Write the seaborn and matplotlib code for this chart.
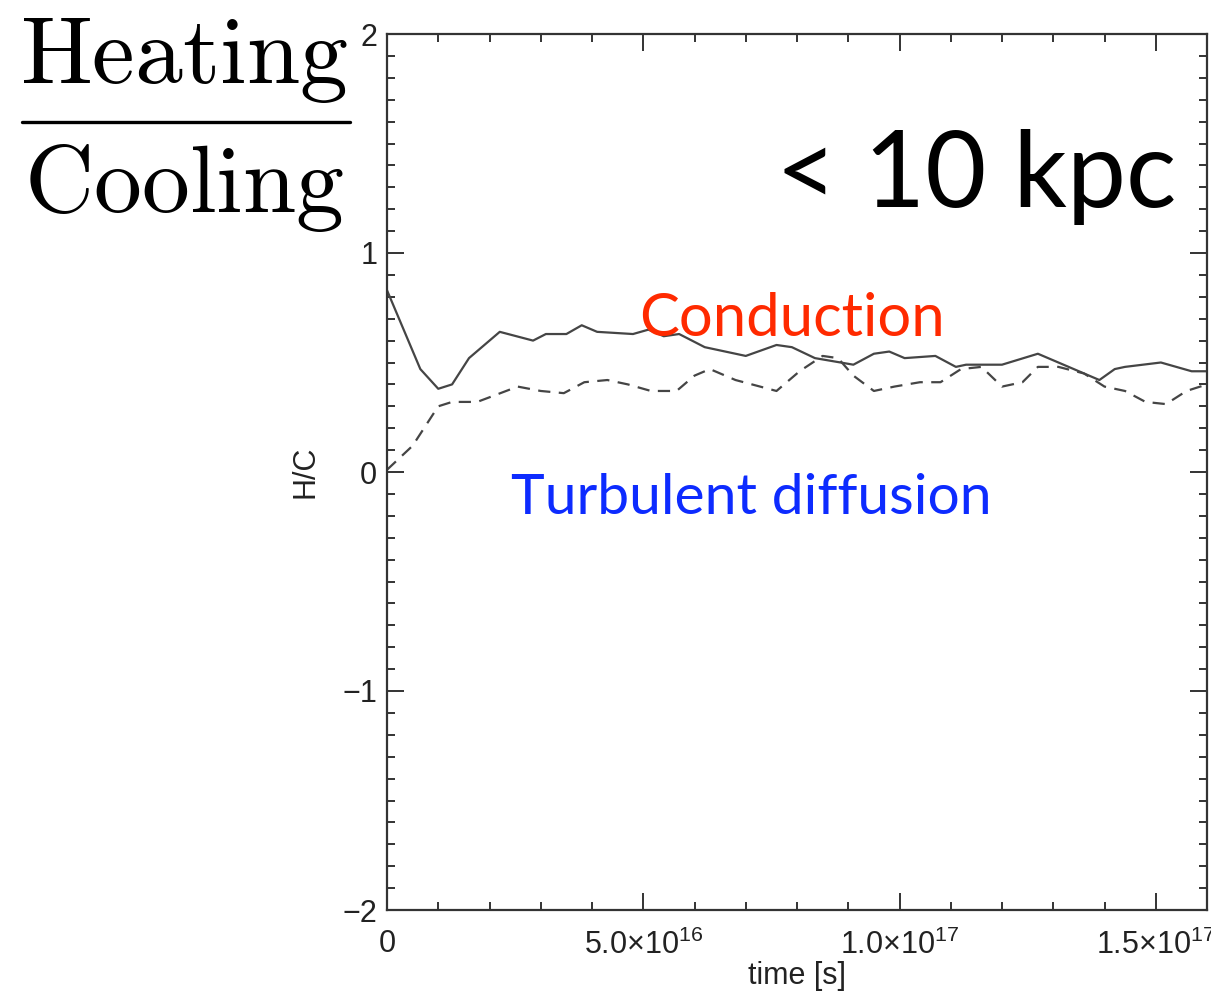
import numpy as np
import pandas as pd
import matplotlib
matplotlib.use("Agg")
import matplotlib.pyplot as plt
from matplotlib.lines import Line2D
from matplotlib.ticker import FixedLocator, MultipleLocator, FixedFormatter
import seaborn as sns

# Heating/cooling ratio inside 10 kpc
cond_time = [0.0, 0.65e16, 1.0e16, 1.27e16, 1.6e16, 2.2e16, 2.85e16, 3.1e16, 3.5e16,
             3.8e16, 4.1e16, 4.8e16, 5.1e16, 5.4e16, 5.7e16, 6.2e16, 6.4e16, 7.0e16,
             7.6e16, 7.9e16, 8.35e16, 9.1e16, 9.5e16, 9.8e16, 1.01e17, 1.07e17,
             1.11e17, 1.13e17, 1.2e17, 1.27e17, 1.31e17, 1.39e17, 1.42e17, 1.44e17,
             1.51e17, 1.57e17, 1.6e17]
cond_hc = [0.83, 0.47, 0.38, 0.40, 0.52, 0.64, 0.60, 0.63, 0.63,
           0.67, 0.64, 0.63, 0.65, 0.62, 0.63, 0.57, 0.56, 0.53,
           0.58, 0.57, 0.52, 0.49, 0.54, 0.55, 0.52, 0.53,
           0.48, 0.49, 0.49, 0.54, 0.50, 0.42, 0.47, 0.48,
           0.50, 0.46, 0.46]

turb_time = [0.0, 0.5e16, 1.0e16, 1.27e16, 1.76e16, 2.1e16, 2.55e16, 3.0e16, 3.45e16,
             3.85e16, 4.3e16, 4.7e16, 5.15e16, 5.65e16, 6.0e16, 6.3e16, 6.8e16,
             7.6e16, 8.05e16, 8.5e16, 8.8e16, 9.1e16, 9.5e16, 9.9e16, 1.04e17,
             1.08e17, 1.12e17, 1.16e17, 1.2e17, 1.24e17, 1.27e17, 1.31e17, 1.36e17,
             1.40e17, 1.44e17, 1.48e17, 1.52e17, 1.56e17, 1.6e17]
turb_hc = [0.01, 0.12, 0.30, 0.32, 0.32, 0.35, 0.39, 0.37, 0.36,
           0.41, 0.42, 0.40, 0.37, 0.37, 0.44, 0.47, 0.42,
           0.37, 0.46, 0.53, 0.52, 0.44, 0.37, 0.39, 0.41,
           0.41, 0.47, 0.48, 0.39, 0.41, 0.48, 0.48, 0.45,
           0.39, 0.37, 0.32, 0.31, 0.37, 0.40]

xtick_values = [0.0, 5e16, 1e17, 1.5e17]
xtick_labels = ["0", r"$\mathrm{5.0×10^{16}}$", r"$\mathrm{1.0×10^{17}}$",
                r"$\mathrm{1.5×10^{17}}$"]
ytick_values = [-2, -1, 0, 1, 2]
ytick_labels = ["\u22122", "\u22121", "0", "1", "2"]

sns.set_style("white")
plt.rcParams["font.family"] = ["Liberation Sans", "DejaVu Sans"]
plt.rcParams["mathtext.fontset"] = "custom"
plt.rcParams["mathtext.rm"] = "Liberation Sans"
plt.rcParams["mathtext.it"] = "Liberation Sans:italic"
plt.rcParams["mathtext.bf"] = "Liberation Sans:bold"

axis_grey = "#333333"
line_grey = "#454545"
label_grey = "#222222"

fig = plt.figure(figsize=(12.11, 9.94), dpi=100)
ax = fig.add_axes([387 / 1211, 1 - 910 / 994, (1207 - 387) / 1211, (910 - 34) / 994])

cond = pd.DataFrame({"time": cond_time, "hc": cond_hc})
turb = pd.DataFrame({"time": turb_time, "hc": turb_hc})
sns.lineplot(data=cond, x="time", y="hc", ax=ax, color=line_grey, linewidth=1.6,
             sort=False)
sns.lineplot(data=turb, x="time", y="hc", ax=ax, color=line_grey, linewidth=1.6,
             linestyle=(0, (5.5, 3.8)), sort=False)

ax.set_xlim(0, 1.6e17)
ax.set_ylim(-2, 2)

ax.xaxis.set_major_locator(FixedLocator(xtick_values))
ax.xaxis.set_major_formatter(FixedFormatter(xtick_labels))
ax.xaxis.set_minor_locator(MultipleLocator(1e16))
ax.yaxis.set_major_locator(FixedLocator(ytick_values))
ax.yaxis.set_major_formatter(FixedFormatter(ytick_labels))
ax.yaxis.set_minor_locator(MultipleLocator(0.1))

for s in ax.spines.values():
    s.set_color(axis_grey)
    s.set_linewidth(1.6)
    s.set_visible(True)

ax.tick_params(which="both", direction="in", top=True, right=True, bottom=True,
               left=True, color=axis_grey, width=1.4)
ax.tick_params(which="major", length=12)
ax.tick_params(which="minor", length=6)
ax.tick_params(axis="x", which="major", labelsize=22, pad=14, labelcolor=label_grey)
ax.tick_params(axis="y", which="major", labelsize=22, pad=7, labelcolor=label_grey)

ax.set_xlabel("time [s]", fontsize=22, color=label_grey)
ax.set_ylabel("H/C", fontsize=22, color=label_grey)
ax.xaxis.set_label_coords(0.5, -0.058)
ax.yaxis.set_label_coords(-(387 - 306) / 820, 0.5)
ax.yaxis.label.set_va("center")

# Annotations
ax.text(0.963, 0.802, "< 10 kpc", transform=ax.transAxes, ha="right",
        va="baseline", fontsize=76, family=["Lato", "DejaVu Sans"], color="black")
ax.text(0.494, 0.655, "Conduction", transform=ax.transAxes, ha="center",
        va="baseline", fontsize=43, family=["Lato", "DejaVu Sans"], color="#ff2a00")
ax.text(0.444, 0.452, "Turbulent diffusion", transform=ax.transAxes, ha="center",
        va="baseline", fontsize=41, family=["Lato", "DejaVu Sans"], color="#0d2bff")

# Heating / Cooling fraction on the left
fig.text(184 / 1211, 1 - 83 / 994, r"$\mathrm{Heating}$", ha="center", va="baseline",
         fontsize=69, math_fontfamily="cm", color="black")
fig.text(184 / 1211, 1 - 212 / 994, r"$\mathrm{Cooling}$", ha="center", va="baseline",
         fontsize=69, math_fontfamily="cm", color="black")
fig.add_artist(Line2D([22 / 1211, 350 / 1211], [1 - 122 / 994, 1 - 122 / 994],
                      color="black", linewidth=2.4, transform=fig.transFigure))

fig.savefig("out.png", dpi=100)
